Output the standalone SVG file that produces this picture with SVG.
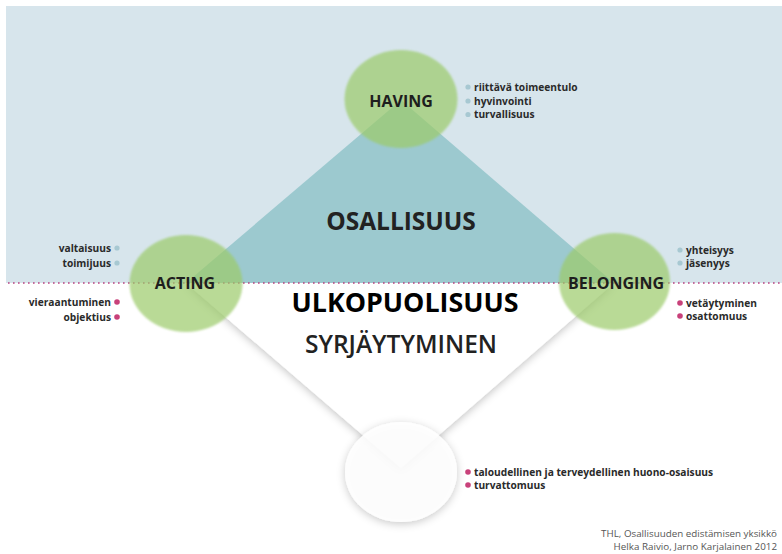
<svg xmlns="http://www.w3.org/2000/svg" width="782" height="554" viewBox="0 0 782 554">
  <defs>
    <filter id="shadow" x="-20%" y="-20%" width="140%" height="140%">
      <feDropShadow dx="0" dy="2" stdDeviation="4.5" flood-color="#000" flood-opacity="0.24"/>
    </filter>
    <filter id="soft" x="-10%" y="-10%" width="120%" height="120%">
      <feGaussianBlur stdDeviation="0.8"/>
    </filter>
  </defs>
  <style>
    .circle { fill: #9ccb6a; opacity: 0.7; }
    .lbl { font-family: "Open Sans", "Liberation Sans", sans-serif; font-weight: 600; fill: #1e1e1e; }
    .node { font-size: 16px; font-weight: 700; text-anchor: middle; }
    .item { font-family: "Open Sans", "Liberation Sans", sans-serif; font-weight: 700; font-size: 10.2px; fill: #2a2a2a; }
    .bl { fill: #a7c8d2; }
    .pk { fill: #c8417a; }
    .credit { font-family: "Open Sans", "Liberation Sans", sans-serif; font-size: 9.8px; fill: #555; text-anchor: end; }
  </style>
  <rect x="0" y="0" width="782" height="554" fill="#ffffff"/>
  <rect id="upper-bg" x="6" y="6" width="776" height="277" fill="#d7e5ec"/>

  <g id="connectors">
    <polygon id="diamond-lower" points="186,283 614,283 401,468" fill="#ffffff" filter="url(#shadow)"/>
    <polygon id="diamond-upper" points="401,100 614,283 186,283" fill="#9cc9cf"/>
    <line id="divider" x1="8" y1="283" x2="782" y2="283" stroke="#b5407f" stroke-width="1.6" stroke-dasharray="1.6 3.4"/>
  </g>

  <g id="node-bottom">
    <ellipse cx="401" cy="472" rx="56" ry="50" fill="#ffffff" fill-opacity="0.88" filter="url(#shadow)"/>
  </g>

  <g id="node-having">
    <ellipse class="circle" cx="401" cy="99" rx="56.5" ry="49" filter="url(#soft)"/>
    <text class="lbl node" x="401" y="107">HAVING</text>
  </g>
  <g id="node-acting">
    <ellipse class="circle" cx="186" cy="283.5" rx="56.5" ry="48.5" filter="url(#soft)"/>
    <text class="lbl node" x="185" y="288.5">ACTING</text>
  </g>
  <g id="node-belonging">
    <ellipse class="circle" cx="614.5" cy="281.5" rx="55.5" ry="48.5" filter="url(#soft)"/>
    <text class="lbl node" x="616" y="288.5">BELONGING</text>
  </g>

  <g id="center-labels">
    <text class="lbl" x="401" y="230" font-size="24.5" text-anchor="middle" style="font-weight:700;fill:#222">OSALLISUUS</text>
    <text class="lbl" x="405" y="312" font-size="26.8" text-anchor="middle" style="font-weight:700;fill:#000">ULKOPUOLISUUS</text>
    <text class="lbl" x="401" y="353" font-size="24.5" text-anchor="middle" style="font-weight:600;fill:#222">SYRJÄYTYMINEN</text>
  </g>

  <g id="having-items">
    <circle class="bl" cx="468" cy="87" r="2.6"/>
    <circle class="bl" cx="468" cy="101" r="2.6"/>
    <circle class="bl" cx="468" cy="114.5" r="2.6"/>
    <text class="item" x="474" y="90.5">riittävä toimeentulo</text>
    <text class="item" x="474" y="104.5">hyvinvointi</text>
    <text class="item" x="474" y="118">turvallisuus</text>
  </g>

  <g id="acting-items">
    <circle class="bl" cx="117" cy="248" r="2.6"/>
    <circle class="bl" cx="117" cy="263" r="2.6"/>
    <circle class="pk" cx="117" cy="302" r="2.8"/>
    <circle class="pk" cx="117" cy="317" r="2.8"/>
    <text class="item" x="111" y="251.5" text-anchor="end">valtaisuus</text>
    <text class="item" x="111" y="266.5" text-anchor="end">toimijuus</text>
    <text class="item" x="111" y="305.5" text-anchor="end">vieraantuminen</text>
    <text class="item" x="111" y="320.5" text-anchor="end">objektius</text>
  </g>

  <g id="belonging-items">
    <circle class="bl" cx="680" cy="250" r="2.6"/>
    <circle class="bl" cx="680" cy="263" r="2.6"/>
    <circle class="pk" cx="680" cy="303" r="2.8"/>
    <circle class="pk" cx="680" cy="316" r="2.8"/>
    <text class="item" x="686" y="253.5">yhteisyys</text>
    <text class="item" x="686" y="266.5">jäsenyys</text>
    <text class="item" x="686" y="306.5">vetäytyminen</text>
    <text class="item" x="686" y="319.5">osattomuus</text>
  </g>

  <g id="bottom-items">
    <circle class="pk" cx="468" cy="472" r="2.8"/>
    <circle class="pk" cx="468" cy="485" r="2.8"/>
    <text class="item" x="474" y="475.5">taloudellinen ja terveydellinen huono-osaisuus</text>
    <text class="item" x="474" y="488.5">turvattomuus</text>
  </g>

  <g id="credits">
    <text class="credit" x="777" y="537">THL, Osallisuuden edistämisen yksikkö</text>
    <text class="credit" x="777" y="550">Helka Raivio, Jarno Karjalainen 2012</text>
  </g>
</svg>
